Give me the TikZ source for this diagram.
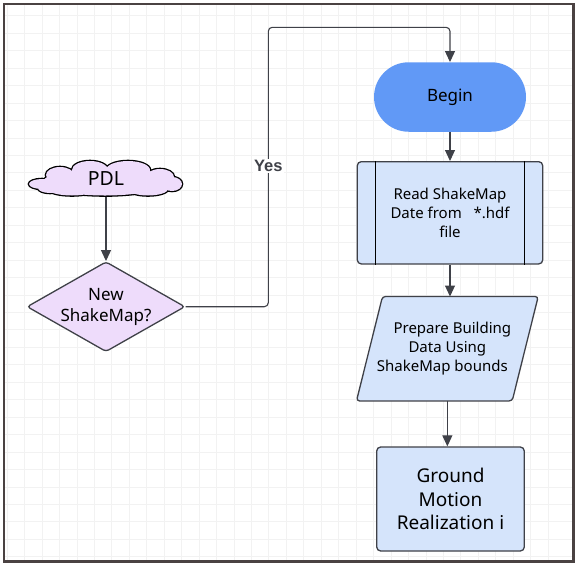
\documentclass[tikz,border=0pt]{standalone}
\usepackage{fontspec}
\setmainfont{Noto Sans}
\newfontfamily\yesfont{Liberation Sans}
\usetikzlibrary{arrows.meta,shapes.geometric,shapes.misc}
\definecolor{stroke}{HTML}{3F4148}
\definecolor{lblue}{HTML}{D5E4FB}
\definecolor{mblue}{HTML}{6199F6}
\definecolor{lpurple}{HTML}{EEDCFB}
\definecolor{gridc}{HTML}{F2F2F2}
\definecolor{framec}{HTML}{4A4242}
\tikzset{
  box/.style={draw=stroke, line width=1.3pt, fill=lblue, rounded corners=4pt, align=center, inner sep=0pt},
  conn/.style={draw=stroke, line width=1.1pt, -{Triangle[length=11pt,width=10pt]}},
  t15/.style={font=\fontsize{15}{19}\selectfont},
}
\newcommand{\cloudparts}{%
  (42,184) ellipse (13 and 5)
  (60,175) ellipse (14 and 8)
  (90,170) ellipse (18 and 9)
  (128,170) ellipse (22 and 9)
  (160,177) ellipse (14 and 8)
  (172,184) ellipse (10 and 7)
  (105,182) ellipse (62 and 13.5)
  (50,188) ellipse (12 and 5)
  (72,189) ellipse (24 and 6.5)
  (110,189) ellipse (24 and 6.5)
  (148,189) ellipse (20 and 6.5)}
\begin{document}
\begin{tikzpicture}[x=1pt,y=-1pt]
\useasboundingbox (0,0) rectangle (578,563);
\fill[white] (0,0) rectangle (578,563);
% grid
\foreach \i in {0,...,31} {
  \pgfmathsetmacro{\gx}{7.05+17.45*\i}
  \ifdim \gx pt<572pt \draw[gridc, line width=0.7pt] (\gx,5) -- (\gx,560); \fi
  \pgfmathsetmacro{\gy}{15.7+17.45*\i}
  \ifdim \gy pt<560pt \draw[gridc, line width=0.7pt] (5,\gy) -- (572,\gy); \fi
}
\draw[framec, line width=2.5pt] (4,4) rectangle (573.5,561.5);

% cloud (outline of a union of ellipses)
\draw[stroke, line width=2.6pt] \cloudparts;
\fill[lpurple] \cloudparts;
\node[inner sep=0pt, minimum width=152pt, minimum height=35pt, font=\fontsize{19.5}{23}\selectfont]
      (pdl) at (106,179) {PDL};

\node[diamond, draw=stroke, line width=1.3pt, fill=lpurple, rounded corners=3pt, aspect=1.8,
      minimum width=158pt, minimum height=90pt, inner sep=0pt, align=center,
      font=\fontsize{17}{20.6}\selectfont] (dia) at (106,306.7) {New\\ShakeMap?};
\node[rounded rectangle, fill=mblue, minimum width=152pt, minimum height=69.5pt, inner sep=0pt,
      font=\fontsize{17}{20}\selectfont] (begin) at (450,97) {Begin};
\node[box, t15, minimum width=185.4pt, minimum height=102.3pt] (read) at (450,212.8)
      {Read ShakeMap\\Date from\ \ \ *.hdf\\file};
\draw[stroke, line width=1.3pt] ([xshift=18.7pt]read.north west) -- ([xshift=18.7pt]read.south west);
\draw[stroke, line width=1.3pt] ([xshift=-18.7pt]read.north east) -- ([xshift=-18.7pt]read.south east);
\node[inner sep=0pt, minimum width=181.3pt, minimum height=104pt] (prep) at (447.35,348.7) {};
\fill[lblue, draw=stroke, line width=1.3pt, rounded corners=3pt]
  (prep.south west) -- ([xshift=-26pt]prep.south east) -- (prep.north east) -- ([xshift=26pt]prep.north west) -- cycle;
\node[t15, align=center, inner sep=0pt] (preptext) at (prep.center)
      {\hspace*{10pt}Prepare Building\\Data Using\\ShakeMap bounds\hspace*{10pt}};
\node[box, minimum width=147.6pt, minimum height=104pt, font=\fontsize{19}{23.3}\selectfont] (ground) at (450.5,499)
      {Ground\\Motion\\Realization i};

% connectors
\coordinate (turn) at (268.3,27.3);
\draw[conn] (pdl.south) -- (dia.north);
\draw[conn, rounded corners=4pt] (dia.east) -| (turn) -| (begin.north);
\node[fill=white, inner sep=1.5pt, text=stroke, font=\yesfont\bfseries\fontsize{16.5}{19}\selectfont] (yes) at (268.3,166) {Yes};
\draw[conn] (begin.south) -- (read.north);
\draw[conn] (read.south) -- (read.south |- prep.north);
\draw[conn] (prep.south) -- (prep.south |- ground.north);
\end{tikzpicture}
\end{document}
